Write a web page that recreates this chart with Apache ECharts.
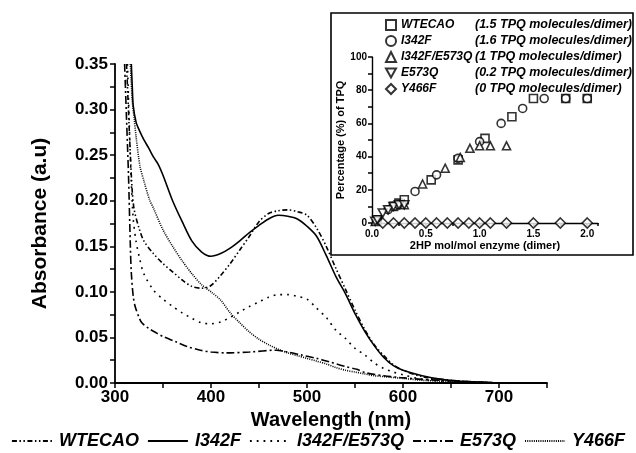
<!DOCTYPE html>
<html>
<head>
<meta charset="utf-8">
<script src="https://cdn.jsdelivr.net/npm/echarts@6/dist/echarts.min.js"></script>
<style>
  html, body { margin: 0; padding: 0; background: #fff; }
  #chart { width: 636px; height: 453px; }
</style>
</head>
<body>
<div id="chart"></div>
<script>
// UV-vis spectra: [wavelength (nm), absorbance]
const wtecaoSpectrum = [
  [312, 0.35], [314, 0.30], [316, 0.25], [318, 0.21], [320, 0.19], [325, 0.17], [330, 0.156],
  [340, 0.142], [350, 0.131], [360, 0.122], [370, 0.113], [380, 0.106], [390, 0.104],
  [400, 0.107], [410, 0.118], [420, 0.131], [430, 0.146], [440, 0.161], [450, 0.177],
  [460, 0.186], [470, 0.189], [480, 0.190], [490, 0.188], [500, 0.184], [510, 0.170],
  [520, 0.150], [530, 0.126], [540, 0.103], [550, 0.080], [560, 0.059], [570, 0.042],
  [580, 0.030], [590, 0.020], [600, 0.014], [620, 0.007], [640, 0.004], [660, 0.002],
  [680, 0.001], [700, 0.000]
];
const i342fSpectrum = [
  [317, 0.35], [318, 0.325], [319, 0.304], [322, 0.286], [325, 0.278], [330, 0.267],
  [335, 0.258], [340, 0.248], [345, 0.240], [350, 0.228], [360, 0.200], [370, 0.177],
  [380, 0.156], [390, 0.144], [400, 0.139], [410, 0.142], [420, 0.148], [430, 0.156],
  [440, 0.165], [450, 0.173], [460, 0.180], [470, 0.184], [480, 0.183], [490, 0.180],
  [500, 0.172], [510, 0.161], [520, 0.140], [530, 0.117], [540, 0.098], [550, 0.076],
  [560, 0.057], [570, 0.041], [580, 0.028], [590, 0.019], [600, 0.014], [620, 0.008],
  [640, 0.004], [660, 0.002], [680, 0.001], [700, 0.000]
];
const i342fE573qSpectrum = [
  [313, 0.35], [315, 0.28], [317, 0.22], [319, 0.18], [322, 0.155], [326, 0.135],
  [330, 0.120], [340, 0.102], [350, 0.092], [360, 0.084], [370, 0.077], [380, 0.071],
  [390, 0.066], [400, 0.065], [410, 0.067], [420, 0.072], [430, 0.078], [440, 0.084],
  [450, 0.089], [460, 0.094], [470, 0.097], [480, 0.097], [490, 0.095], [500, 0.092],
  [510, 0.082], [520, 0.072], [530, 0.058], [540, 0.049], [550, 0.038], [560, 0.031],
  [570, 0.022], [580, 0.016], [590, 0.012], [600, 0.009], [620, 0.004], [640, 0.002],
  [660, 0.001], [680, 0.000], [700, 0.000]
];
const e573qSpectrum = [
  [310, 0.35], [312, 0.29], [314, 0.23], [316, 0.15], [317, 0.121], [319, 0.095],
  [321, 0.084], [325, 0.072], [328, 0.066], [335, 0.060], [343, 0.055], [350, 0.051],
  [364, 0.045], [375, 0.040], [389, 0.036], [400, 0.034], [416, 0.033], [440, 0.034],
  [468, 0.036], [480, 0.034], [493, 0.031], [510, 0.027], [524, 0.023], [540, 0.018],
  [552, 0.015], [562, 0.011], [580, 0.008], [597, 0.006], [620, 0.004], [640, 0.003],
  [660, 0.002], [700, 0.000]
];
const y466fSpectrum = [
  [316, 0.35], [318, 0.31], [320, 0.29], [322, 0.27], [326, 0.238], [330, 0.222],
  [336, 0.201], [340, 0.192], [350, 0.168], [360, 0.150], [370, 0.134], [380, 0.120],
  [390, 0.108], [400, 0.100], [410, 0.091], [420, 0.077], [430, 0.066], [440, 0.056],
  [450, 0.048], [460, 0.042], [470, 0.037], [480, 0.033], [490, 0.030], [500, 0.027],
  [510, 0.024], [520, 0.021], [530, 0.017], [540, 0.014], [550, 0.012], [560, 0.010],
  [570, 0.008], [580, 0.007], [590, 0.006], [600, 0.005], [620, 0.003], [640, 0.002],
  [660, 0.001], [680, 0.001], [700, 0.000]
];

// TPQ titration: [2HP mol/mol enzyme (dimer), % TPQ]
const wtecaoTitration = [
  [0.05, 2], [0.2, 10], [0.25, 12], [0.3, 14], [0.55, 26], [0.8, 38], [1.05, 51],
  [1.3, 64], [1.5, 75], [1.8, 75], [2.0, 75]
];
const i342fTitration = [
  [0.05, 2], [0.15, 8], [0.2, 10], [0.25, 11], [0.4, 19], [0.6, 29], [0.8, 39],
  [1.0, 49], [1.2, 60], [1.4, 69], [1.6, 75], [1.8, 75], [2.0, 75]
];
const i342fE573qTitration = [
  [0.03, 1], [0.3, 11], [0.47, 23.5], [0.68, 33], [0.82, 39.5], [0.91, 45],
  [1.0, 46.5], [1.1, 46.5], [1.25, 46.5]
];
const e573qTitration = [
  [0.03, 1], [0.05, 2], [0.1, 6], [0.15, 8], [0.2, 10], [0.25, 11], [0.3, 11]
];
const y466fTitration = [
  [0.1, 0], [0.2, 0], [0.3, 0], [0.4, 0], [0.5, 0], [0.6, 0], [0.7, 0], [0.8, 0],
  [0.9, 0], [1.0, 0], [1.1, 0], [1.25, 0], [1.5, 0], [1.75, 0], [2.0, 0]
];

const spectrumNames = ['WTECAO', 'I342F', 'I342F/E573Q', 'E573Q', 'Y466F'];
const tpqPerDimer = ['1.5', '1.6', '1', '0.2', '0'];
const titrationNames = spectrumNames.map((n, i) => n + ' (' + tpqPerDimer[i] + ' TPQ molecules/dimer)');

const FONT = '"Liberation Sans", Arial, Helvetica, sans-serif';
const INK = '#000';

const dashStyles = [
  [5, 2.5, 1.5, 2.5, 1.5, 2.5], // dash-dot-dot
  'solid',
  [1.8, 5],                     // sparse dots
  [8, 3, 2, 3],                 // dash-dot
  [1, 1.2]                      // dense dots
];
const spectra = [wtecaoSpectrum, i342fSpectrum, i342fE573qSpectrum, e573qSpectrum, y466fSpectrum];
const titrations = [wtecaoTitration, i342fTitration, i342fE573qTitration, e573qTitration, y466fTitration];
const markerShapes = [
  'rect', 'circle', 'triangle',
  'path://M0,0 L10,0 L5,9 Z',
  'diamond'
];

const chart = echarts.init(document.getElementById('chart'), null, { renderer: 'canvas' });

const axisLine = { lineStyle: { color: INK, width: 1.8 } };
const axisTick = (len) => ({ show: true, inside: false, length: len, lineStyle: { color: INK, width: 1.5 } });

const series = [];
spectra.forEach((d, i) => {
  series.push({
    name: spectrumNames[i],
    type: 'line',
    xAxisIndex: 0, yAxisIndex: 0,
    data: d,
    smooth: 0.3,
    showSymbol: false,
    lineStyle: { color: INK, width: 1.6, type: dashStyles[i] },
    itemStyle: { color: INK },
    z: 2
  });
});
titrations.forEach((d, i) => {
  series.push({
    name: titrationNames[i],
    type: 'scatter',
    xAxisIndex: 1, yAxisIndex: 1,
    data: d,
    symbol: markerShapes[i],
    symbolSize: i === 3 ? [9, 8] : (i === 4 ? 10 : 8),
    itemStyle: { color: '#fff', borderColor: INK, borderWidth: 1.6 },
    z: 6
  });
});

chart.setOption({
  animation: false,
  backgroundColor: '#fff',
  textStyle: { fontFamily: FONT },
  graphic: [{
    type: 'rect',
    shape: { x: 331, y: 13, width: 302, height: 242 },
    style: { fill: '#fff', stroke: INK, lineWidth: 1.6 },
    z: 3
  }],
  grid: [
    { left: 115, right: 89, top: 64, bottom: 70 },
    { left: 372, right: 38, top: 57, bottom: 230 }
  ],
  xAxis: [{
    gridIndex: 0,
    type: 'value',
    min: 300, max: 750, interval: 50,
    name: 'Wavelength (nm)',
    nameLocation: 'middle',
    nameGap: 14,
    nameTextStyle: { color: INK, fontSize: 20, fontWeight: 'bold', verticalAlign: 'top' },
    axisLine: axisLine,
    axisTick: axisTick(5),
    splitLine: { show: false },
    axisLabel: {
      color: INK, fontSize: 17, fontWeight: 'bold', margin: 6,
      formatter: v => (v % 100 === 0 && v <= 700) ? String(v) : ''
    }
  }, {
    gridIndex: 1,
    type: 'value',
    min: 0, max: 2.1, interval: 0.25,
    name: '2HP mol/mol enzyme (dimer)',
    nameLocation: 'middle',
    nameGap: 17,
    nameTextStyle: { color: INK, fontSize: 11, fontWeight: 'bold', verticalAlign: 'top' },
    axisLine: { lineStyle: { color: INK, width: 1.4 } },
    axisTick: axisTick(3),
    splitLine: { show: false },
    axisLabel: {
      color: INK, fontSize: 10, fontWeight: 'bold', margin: 6,
      formatter: v => {
        const r = Math.round(v * 100);
        return (r % 50 === 0 && r <= 200) ? (r / 100).toFixed(1) : '';
      }
    },
    z: 5
  }],
  yAxis: [{
    gridIndex: 0,
    type: 'value',
    min: 0, max: 0.35, interval: 0.025,
    name: 'Absorbance (a.u)',
    nameLocation: 'middle',
    nameGap: 64,
    nameTextStyle: { color: INK, fontSize: 21, fontWeight: 'bold' },
    axisLine: axisLine,
    axisTick: axisTick(5),
    splitLine: { show: false },
    axisLabel: {
      color: INK, fontSize: 17, fontWeight: 'bold', margin: 7,
      formatter: v => {
        const r = Math.round(v * 1000);
        return r % 50 === 0 ? (r / 1000).toFixed(2) : '';
      }
    }
  }, {
    gridIndex: 1,
    type: 'value',
    min: 0, max: 100, interval: 10,
    name: 'Percentage (%) of TPQ',
    nameLocation: 'middle',
    nameGap: 24,
    nameTextStyle: { color: INK, fontSize: 11, fontWeight: 'bold' },
    axisLine: { lineStyle: { color: INK, width: 1.4 } },
    axisTick: axisTick(4),
    splitLine: { show: false },
    axisLabel: {
      color: INK, fontSize: 10, fontWeight: 'bold', margin: 5,
      formatter: v => (Math.round(v) % 20 === 0 ? String(Math.round(v)) : '')
    },
    z: 5
  }],
  legend: [{
    data: spectrumNames,
    left: 'center',
    top: 432,
    padding: 0,
    orient: 'horizontal',
    itemWidth: 40,
    itemHeight: 14,
    itemGap: 8,
    selectedMode: false,
    itemStyle: { opacity: 0 },
    textStyle: {
      color: INK, fontSize: 18, fontWeight: 'bold', fontStyle: 'italic',
      fontFamily: FONT, padding: [0, 0, 0, 2]
    }
  }, {
    data: titrationNames,
    left: 385,
    top: 18,
    padding: 0,
    orient: 'vertical',
    itemWidth: 10,
    itemHeight: 10,
    itemGap: 2,
    selectedMode: false,
    z: 6,
    formatter: name => {
      const k = name.indexOf(' (');
      return '{n|' + name.slice(0, k) + '}{d|' + name.slice(k + 1) + '}';
    },
    textStyle: {
      color: INK, fontSize: 12, fontWeight: 'bold', fontStyle: 'italic', fontFamily: FONT,
      lineHeight: 14,
      rich: {
        n: { width: 74, fontSize: 12, lineHeight: 14, fontWeight: 'bold', fontStyle: 'italic', fontFamily: FONT, color: INK },
        d: { fontSize: 12.5, lineHeight: 14, fontWeight: 'bold', fontStyle: 'italic', fontFamily: FONT, color: INK }
      }
    }
  }],
  series: series
});
</script>
</body>
</html>
